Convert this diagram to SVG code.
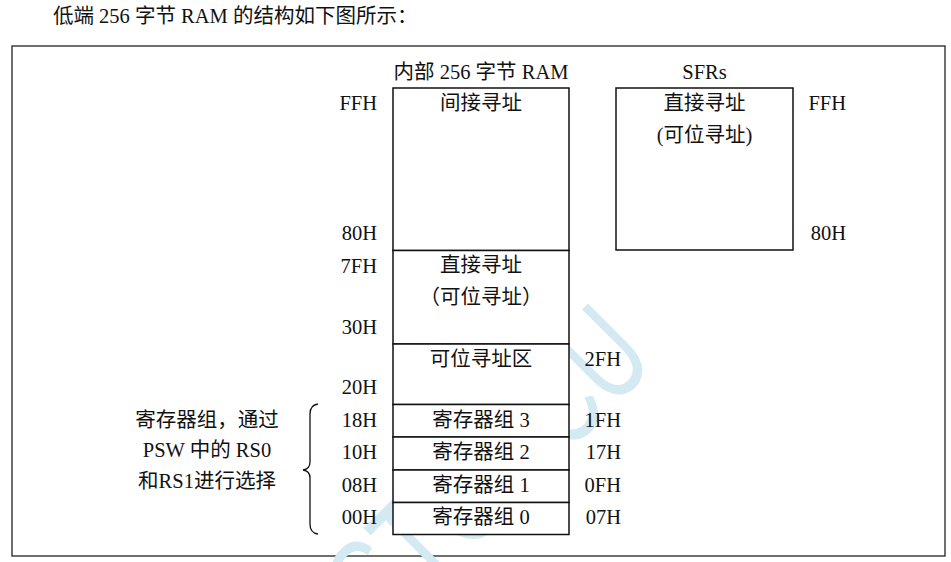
<svg xmlns="http://www.w3.org/2000/svg" width="951" height="562" viewBox="0 0 951 562">
<style>
text{font-family:"Liberation Serif","Noto Sans CJK SC",serif;font-size:20.5px;fill:#111;}
.c{text-anchor:middle;}
.r{text-anchor:end;}
.box{fill:#fff;stroke:#111;stroke-width:1.5;}
.wm{font-family:"Liberation Sans",sans-serif;font-size:133px;fill:#d3eaf3;}
</style>
<rect width="951" height="562" fill="#fff"/>
<text x="53" y="23">低端 256 字节 RAM 的结构如下图所示：</text>
<rect id="frame" x="12" y="46" width="933" height="510" fill="#fff" stroke="#222" stroke-width="1.3"/>
<g id="watermark" transform="rotate(-45) scale(0.68,1)">
<text class="wm" x="306" y="722" text-anchor="end">STCMCU</text>
</g>
<text class="c" x="481" y="79">内部 256 字节 RAM</text>
<text class="c" x="704.5" y="79">SFRs</text>
<g id="ram-indirect">
<rect class="box" x="393" y="88" width="176" height="162.5"/>
<text class="c" x="481" y="110">间接寻址</text>
</g>
<g id="ram-direct">
<rect class="box" x="393" y="250.5" width="176" height="93.5"/>
<text class="c" x="481" y="272">直接寻址</text>
<text class="c" x="481" y="304">（可位寻址）</text>
</g>
<g id="ram-bit">
<rect class="box" x="393" y="344" width="176" height="60.5"/>
<text class="c" x="481" y="366">可位寻址区</text>
</g>
<g id="bank3">
<rect class="box" x="393" y="404.5" width="176" height="32.5"/>
<text class="c" x="481" y="427">寄存器组 3</text>
</g>
<g id="bank2">
<rect class="box" x="393" y="437" width="176" height="33"/>
<text class="c" x="481" y="459">寄存器组 2</text>
</g>
<g id="bank1">
<rect class="box" x="393" y="470" width="176" height="32.5"/>
<text class="c" x="481" y="492">寄存器组 1</text>
</g>
<g id="bank0">
<rect class="box" x="393" y="502.5" width="176" height="32"/>
<text class="c" x="481" y="524">寄存器组 0</text>
</g>
<g id="sfr">
<rect class="box" x="616" y="88" width="177" height="162"/>
<text class="c" x="704.5" y="110">直接寻址</text>
<text class="c" x="704.5" y="142">(可位寻址)</text>
</g>
<g id="addr-left">
<text class="r" x="377" y="110">FFH</text>
<text class="r" x="377" y="240">80H</text>
<text class="r" x="377" y="273">7FH</text>
<text class="r" x="377" y="334">30H</text>
<text class="r" x="377" y="394">20H</text>
<text class="r" x="377" y="427">18H</text>
<text class="r" x="377" y="459">10H</text>
<text class="r" x="377" y="492">08H</text>
<text class="r" x="377" y="524">00H</text>
</g>
<g id="addr-right">
<text class="r" x="621" y="366">2FH</text>
<text class="r" x="621" y="427">1FH</text>
<text class="r" x="621" y="459">17H</text>
<text class="r" x="621" y="492">0FH</text>
<text class="r" x="621" y="524">07H</text>
<text class="r" x="846" y="110">FFH</text>
<text class="r" x="846" y="240">80H</text>
</g>
<g id="note">
<text class="c" x="207" y="427">寄存器组，通过</text>
<text class="c" x="207" y="457">PSW 中的 RS0</text>
<text class="c" x="207" y="488">和RS1进行选择</text>
</g>
<g id="connectors">
<path d="M318,404 Q310,405 310,414 L310,462 Q310,469 303,470 Q310,471 310,478 L310,524 Q310,533 318,534" fill="none" stroke="#111" stroke-width="1.3"/>
</g>
</svg>
